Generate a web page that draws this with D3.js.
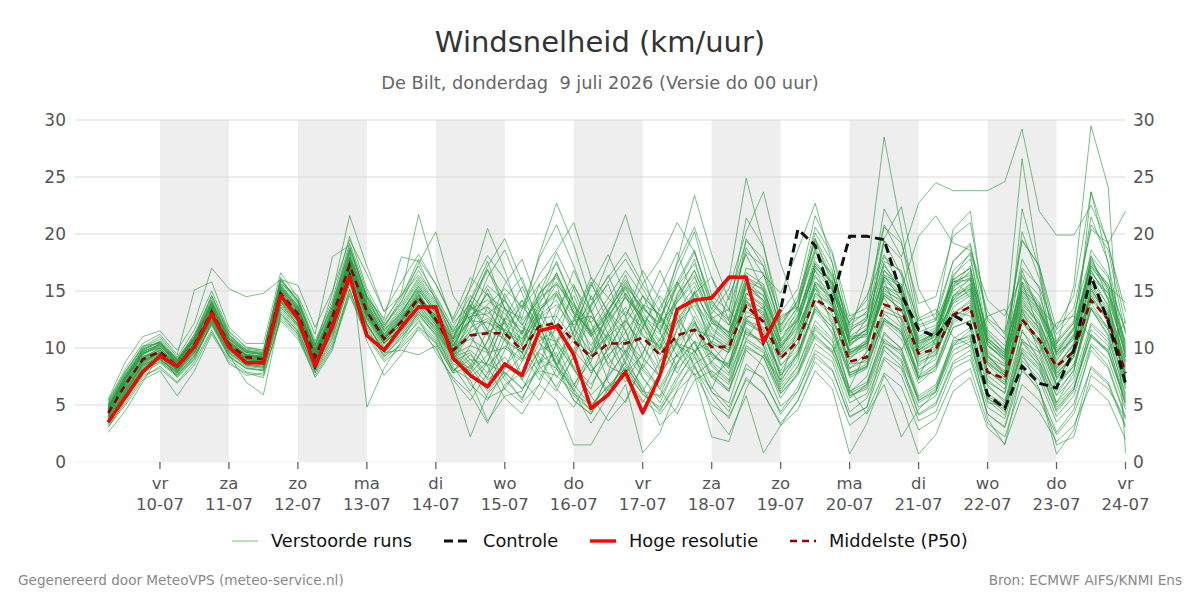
<!DOCTYPE html>
<html><head><meta charset="utf-8">
<script src="https://cdn.jsdelivr.net/npm/d3@7"></script>
<style>
html,body{margin:0;padding:0;background:#fff;}
svg{display:block;font-family:"DejaVu Sans",sans-serif;}
</style></head>
<body><svg id="c" width="1200" height="600"></svg>
<script>
// ---- data ----
const startTime = Date.UTC(2026, 6, 9, 6); // first forecast step
const stepHours = 6;
const dayNames = ["zo","ma","di","wo","do","vr","za"];
const yTicks = [0,5,10,15,20,25,30];

const hogeResolutie = [3.5,5.7,7.9,9.3,8.4,10.1,13.0,10.1,8.7,8.7,
 14.6,12.6,8.4,11.9,16.3,11.1,9.8,11.8,13.6,13.6,
 9.1,7.6,6.6,8.6,7.6,11.5,11.9,9.4,4.7,5.9,
 7.9,4.3,7.6,13.4,14.2,14.4,16.2,16.2,10.5,13.4];

const controle = [3.5,5.7,7.9,9.3,8.4,10.1,13.0,10.1,8.7,8.7,
 14.6,12.6,8.4,11.9,16.3,11.1,9.8,11.8,13.6,13.6,
 9.1,7.6,6.6,8.6,7.6,11.5,11.9,9.4,4.7,5.9,
 7.9,4.3,7.6,13.4,14.2,14.4,16.2,16.2,10.5,13.4,
 20.4,19.0,14.2,19.8,19.8,19.5,14.7,11.6,11.0,12.9,
 12.0,5.9,4.7,8.4,6.9,6.5,9.8,16.3,12.3,6.9];

const middelste = [4.3,6.8,9.0,9.7,8.4,10.3,13.2,10.3,9.2,9.0,
 14.8,13.0,9.2,12.7,17.3,13.2,10.8,12.3,14.4,12.5,
 9.8,11.1,11.3,11.3,9.8,11.9,12.2,10.6,9.2,10.4,
 10.4,10.9,9.4,11.1,11.6,10.1,10.1,13.7,12.3,9.1,
 10.6,14.3,13.3,8.8,9.2,13.8,13.3,9.5,9.9,12.9,
 13.6,7.9,7.3,12.5,10.7,8.4,9.7,14.2,12.5,7.8];

const verstoordeRuns = [
[4.5,7.2,9.5,10.2,8.6,10.8,14.1,10.8,9.5,9.2, 15.2,13.4,9.0,12.2,18.0,13.8,11.2,12.9,15.1,13.0, 10.2,12.5,14.8,12.1,9.5,13.2,15.6,11.0,7.8,9.9, 12.4,10.2,7.5,11.8,14.9,9.6,8.2,15.7,14.0,8.5, 9.8,17.2,15.1,7.6,8.3,16.4,14.2,8.1,9.0,14.5, 16.2,7.0,6.1,15.8,11.5,6.8,9.2,18.1,14.2,6.5],
[3.9,6.1,8.6,9.0,7.9,9.8,12.6,9.9,8.8,8.5, 14.1,12.2,8.6,11.9,16.5,12.6,10.1,11.5,13.2,11.8, 9.4,12.6,14.8,11.2,7.6,9.8,13.4,15.6,12.2,8.4, 7.6,11.8,14.6,12.4,8.2,6.4,9.8,14.2,12.8,7.2, 11.8,15.6,12.0,6.1,7.5,12.2,10.8,6.9,8.2,11.8, 12.4,5.2,4.9,11.6,8.8,5.9,8.1,13.5,11.0,5.8],
[5.2,7.8,10.1,11.0,9.2,11.6,15.0,11.5,10.1,9.8, 16.2,14.0,10.2,13.9,19.2,14.9,12.0,14.1,16.8,14.2, 11.4,14.1,16.9,13.5,11.2,15.6,17.4,14.0,9.6,12.1, 14.5,12.4,9.9,14.6,17.8,12.5,11.3,19.6,17.2,11.4, 13.6,20.1,17.5,11.0,11.2,19.4,17.8,11.8,12.4,17.6, 19.2,11.0,9.4,20.2,16.1,10.4,12.2,21.5,17.5,9.8],
[3.0,5.4,7.6,8.2,6.9,8.5,11.4,9.0,7.9,7.6, 12.8,11.2,7.9,10.5,15.1,11.4,9.3,10.2,11.9,10.5, 7.8,8.4,6.2,7.9,6.5,8.2,9.1,6.8,4.9,6.7, 8.2,5.9,4.8,7.5,9.4,6.1,5.2,9.8,8.4,4.9, 6.2,9.5,8.1,3.9,4.8,10.2,8.8,4.1,5.0,8.6, 9.4,4.2,3.1,8.9,7.2,3.5,5.1,9.8,8.2,3.8],
[4.8,7.5,9.2,9.9,8.2,10.5,13.9,10.0,8.9,9.4, 15.6,13.7,9.6,12.9,17.7,13.0,10.4,12.6,14.9,12.2, 9.1,8.2,10.6,14.4,16.2,12.0,8.4,10.8,14.6,11.2, 7.8,9.4,13.6,15.8,12.4,8.8,10.6,14.2,11.5,6.8, 8.9,13.8,11.2,6.5,9.8,15.9,12.4,7.3,10.9,16.1, 14.4,8.5,7.2,13.4,9.6,5.2,7.8,15.2,12.9,7.1],
[5.5,8.8,11.0,11.5,9.8,12.2,17.0,15.2,14.5,14.8, 16.0,15.5,11.8,15.0,19.5,16.5,13.2,15.8,18.2,15.6, 12.4,15.2,18.1,16.0,13.4,17.9,20.8,17.2,13.1,15.8, 17.8,15.2,12.4,16.8,20.2,14.6,13.2,21.4,18.9,13.1, 15.2,21.6,18.4,12.8,13.5,20.6,19.2,13.9,14.5,19.8, 21.0,12.4,10.8,19.5,17.2,11.6,13.5,20.4,19.2,12.1],
[2.6,4.5,7.0,9.5,7.4,9.0,12.2,9.4,7.0,5.9, 13.0,11.5,8.0,10.8,15.8,12.0,9.6,11.0,12.8,11.2, 8.0,9.4,7.8,9.2,7.2,9.8,10.4,8.1,5.9,7.4, 9.8,8.0,6.4,8.8,10.6,7.4,6.2,11.8,10.2,6.2, 8.4,12.0,10.6,5.6,6.8,11.4,9.9,5.2,6.1,10.2, 11.6,5.4,4.1,10.5,8.4,4.4,6.2,12.0,10.5,4.9],
[4.0,6.9,8.9,9.6,8.8,11.2,13.6,10.5,9.4,9.1, 14.6,13.0,9.4,13.0,17.4,13.3,11.0,12.0,14.0,12.9, 10.5,13.8,11.2,7.6,9.4,13.0,10.2,6.8,8.8,12.6, 15.4,12.0,8.2,10.6,14.8,16.2,12.4,10.8,13.0,9.8, 12.5,16.8,14.0,9.6,10.4,14.8,13.2,10.1,11.4,13.9, 14.8,9.2,8.4,13.8,12.1,9.0,10.8,15.6,13.4,8.6],
[4.6,7.0,9.4,10.4,8.9,10.9,13.5,10.9,9.7,9.6, 15.0,13.3,9.9,12.5,17.2,13.9,11.5,13.4,15.8,13.6, 11.0,13.2,15.5,14.1,12.0,14.8,16.2,13.0,11.5,13.9, 16.0,13.8,11.4,15.5,18.4,14.0,12.6,18.8,16.4,12.0, 14.6,19.4,16.2,12.5,14.2,20.8,18.0,22.7,24.5,23.8, 23.8,23.8,24.6,29.2,22.0,19.9,19.9,22.5,19.2,22.0],
[4.1,6.5,8.7,9.4,8.0,10.0,12.9,10.1,9.0,8.8, 14.4,12.7,9.1,12.4,16.9,12.9,10.6,12.2,14.1,12.3, 9.6,6.8,5.4,8.2,11.6,9.2,6.4,4.8,7.6,11.2, 9.4,6.2,5.8,9.6,12.8,10.2,8.4,12.6,13.6,10.2, 12.8,17.6,15.8,11.2,16.4,28.5,20.4,12.8,10.2,14.6, 15.2,9.8,8.4,14.2,12.0,8.2,10.0,16.4,13.6,8.9],
[3.6,6.0,8.2,9.2,8.1,9.6,12.4,9.6,8.5,8.3, 13.8,12.1,8.8,11.7,16.4,12.4,10.0,11.8,13.6,11.6, 9.2,9.8,8.4,10.2,9.0,12.2,10.8,8.4,6.8,9.2, 11.4,13.6,12.0,10.4,9.8,7.4,8.8,12.6,11.2,8.0, 10.4,14.2,12.8,8.2,9.6,12.4,11.6,7.8,9.4,13.2, 12.8,8.6,7.6,16.8,13.2,10.2,15.4,29.5,24.1,0.8],
[5.0,7.6,9.8,10.6,8.6,10.6,13.6,10.6,9.3,9.2, 15.4,13.6,9.6,13.4,18.4,14.2,11.6,13.0,15.4,13.2, 10.8,13.6,12.8,11.6,10.8,13.6,14.8,12.6,10.2,12.8, 15.2,12.6,11.2,15.8,18.6,13.4,16.0,24.9,19.0,12.0, 14.2,19.6,15.4,10.2,11.8,17.2,15.4,10.2,11.6,15.8, 16.4,10.6,9.2,14.8,13.0,8.8,11.2,16.8,14.4,9.6],
[4.4,6.6,9.1,9.8,8.4,10.2,13.1,10.4,9.1,9.0, 14.9,13.1,9.3,12.8,17.6,13.5,10.9,12.4,14.6,12.6, 9.9,11.4,12.4,10.6,9.6,12.8,14.2,11.2,9.0,11.4, 13.6,11.0,10.2,14.2,16.8,13.0,15.2,20.2,23.7,17.4, 13.2,16.4,13.6,9.4,10.8,14.6,13.4,9.8,11.2,14.2, 15.6,9.4,7.8,13.2,11.4,7.6,9.6,14.8,12.8,8.0],
[3.4,5.8,8.0,8.8,7.6,9.4,12.0,9.2,8.2,8.0, 13.6,11.8,8.4,11.2,15.9,12.0,9.8,11.2,13.0,11.2, 8.6,8.0,5.6,6.4,5.2,6.8,5.4,1.5,1.5,4.2, 6.8,0.8,2.6,6.4,9.2,6.2,4.4,8.6,7.2,4.4, 6.6,10.4,9.2,5.2,6.0,9.8,8.4,4.8,5.8,9.4, 10.2,5.6,4.4,9.6,8.0,4.6,6.4,11.2,9.6,5.2],
[4.9,7.4,9.6,10.0,8.5,10.4,13.4,10.2,9.0,8.7, 14.7,12.8,9.2,12.6,17.0,13.0,10.7,12.5,14.8,12.0, 9.4,14.2,17.6,13.4,9.6,7.2,10.4,15.4,13.2,9.8, 12.6,16.8,14.2,10.4,8.6,9.6,7.8,12.4,11.8,7.6, 9.4,14.8,13.8,8.6,8.8,13.2,12.6,8.4,9.6,12.8, 13.6,7.6,6.4,12.4,10.2,6.6,8.4,14.0,11.6,6.8],
[5.4,8.2,10.4,11.2,9.4,15.1,15.8,11.8,10.4,10.4, 16.6,14.4,10.6,14.2,19.8,15.2,12.4,14.6,17.2,14.6, 11.8,14.6,13.2,11.4,10.6,13.8,16.6,13.4,11.2,13.2, 15.8,13.2,10.6,14.8,16.4,12.4,11.0,16.2,15.4,10.6, 12.6,18.0,16.6,11.6,12.4,17.6,16.8,11.4,12.0,16.4, 17.8,10.8,9.6,16.2,14.6,9.8,11.6,17.4,15.6,10.4],
[3.2,5.2,7.4,8.4,7.0,8.8,11.6,8.6,7.8,7.4, 12.6,11.0,7.8,10.2,14.8,11.2,9.0,10.4,12.4,10.8, 8.2,7.2,3.6,5.8,6.2,9.6,8.2,5.4,4.2,6.4, 8.8,6.6,3.2,4.8,8.4,5.6,3.8,7.4,6.0,3.4, 5.4,8.8,7.2,3.2,4.4,7.8,6.6,2.8,3.8,7.2, 8.2,3.4,2.2,6.8,5.4,2.4,4.2,8.2,6.8,3.0],
[4.2,7.4,9.9,10.6,9.0,10.6,14.0,11.0,9.8,9.4, 15.4,13.6,9.8,12.7,17.8,13.6,11.0,12.8,14.4,12.4, 9.6,7.8,9.4,13.6,11.2,8.6,12.8,16.8,13.4,9.2, 7.0,9.6,12.4,15.8,13.2,10.4,14.6,18.2,15.0,10.4, 11.8,15.2,12.4,9.0,10.6,14.4,12.0,8.6,9.8,13.0, 14.2,8.8,7.4,12.8,10.6,7.4,9.4,14.6,12.2,7.6],
[4.7,7.1,9.3,9.5,8.3,10.1,12.8,10.0,8.8,8.6, 14.2,12.4,8.8,12.0,18.6,4.8,8.2,10.6,13.2,11.4, 9.2,12.4,16.2,18.6,14.8,11.2,8.4,6.6,9.8,13.2, 11.6,7.4,5.2,8.6,12.2,9.2,8.6,13.2,12.4,8.4, 10.4,14.6,13.0,8.2,9.0,13.6,12.8,8.8,9.4,13.0, 14.0,8.0,7.0,12.6,10.8,7.8,9.2,14.2,12.6,7.4],
[5.1,7.9,10.2,10.4,9.1,11.0,14.4,11.2,9.6,9.4, 15.8,13.9,10.0,13.6,18.8,14.4,11.8,14.4,17.8,15.6, 12.6,16.2,14.6,13.4,12.6,18.2,22.7,19.0,14.2,16.2, 18.4,15.6,13.2,17.4,20.6,16.2,13.4,18.4,17.2,12.6, 13.8,18.6,15.2,11.4,12.8,17.4,14.8,10.6,11.4,15.2, 16.8,11.4,9.8,15.4,13.6,9.6,11.8,17.6,15.2,10.2],
[4.3,6.7,8.8,9.6,8.3,10.2,13.2,10.4,9.2,9.0, 15.1,13.2,9.4,13.2,18.0,14.6,12.2,14.8,21.7,16.4, 12.2,13.8,11.6,10.8,9.6,12.6,13.8,11.8,9.6,11.2, 13.2,11.8,9.8,12.6,14.4,11.2,10.2,14.8,13.6,9.4, 11.2,15.8,14.6,9.8,10.4,15.2,14.0,9.6,10.6,14.4, 15.4,9.6,8.6,14.4,12.4,8.4,10.4,15.8,13.8,8.8],
[4.6,7.3,9.7,10.3,8.7,10.7,13.8,10.7,9.4,9.3, 15.3,13.5,9.8,13.2,17.9,14.1,11.8,14.0,17.4,20.2, 14.6,12.4,9.8,7.2,5.6,8.4,12.0,14.6,11.2,7.0, 5.2,8.6,12.8,10.4,7.6,8.8,7.6,11.4,10.6,7.0, 9.6,13.4,11.8,7.4,8.2,12.6,11.4,7.2,8.4,12.2, 13.2,7.2,6.0,11.4,9.8,6.2,8.0,13.4,11.2,6.4],
[4.0,6.3,8.5,9.3,8.1,9.9,12.7,9.8,8.7,8.9, 14.3,12.6,8.9,12.2,16.8,12.8,10.4,12.0,14.2,12.6, 10.8,15.4,20.5,16.8,12.4,14.2,17.6,14.0,11.2,12.8, 14.8,12.2,10.0,13.2,15.4,11.6,10.4,15.6,14.2,10.0, 12.2,17.0,15.8,10.8,11.6,16.4,15.6,10.6,11.2,15.6, 16.6,10.2,9.0,15.0,13.2,9.4,11.0,16.2,14.8,9.2],
[3.7,6.2,8.4,9.1,7.8,9.5,12.5,9.7,8.6,8.4, 14.0,12.0,8.6,11.6,16.2,12.2,9.6,9.8,9.4,10.2, 6.8,2.2,6.0,7.6,5.4,8.8,9.6,6.2,3.4,5.8, 8.4,6.2,4.4,7.2,9.8,6.6,4.8,8.2,7.4,4.2, 6.2,9.8,8.8,4.4,5.6,9.2,8.2,4.2,5.2,8.8, 9.8,4.8,3.8,9.2,7.6,4.0,5.8,10.4,9.0,4.6],
[3.5,5.9,8.1,9.0,7.7,9.2,12.3,9.5,8.4,8.2, 13.4,11.6,8.2,11.4,16.0,11.8,9.2,11.0,12.6,9.6, 7.4,6.0,3.4,6.8,7.8,10.4,9.2,5.8,4.6,7.6, 9.6,7.4,5.6,8.6,10.6,7.8,6.2,10.2,9.2,5.6, 7.8,11.6,10.2,6.0,6.8,10.8,9.6,5.6,6.6,10.4, 11.2,6.0,5.0,10.6,8.8,5.2,7.0,11.6,10.2,5.6],
[4.5,6.9,9.1,10.0,8.6,10.4,13.3,10.5,9.3,9.1, 14.8,12.9,9.3,12.9,17.5,13.4,10.9,12.7,14.5,12.8, 10.4,8.6,6.8,9.8,13.4,15.6,11.8,8.2,6.4,10.2, 14.8,12.6,9.4,12.2,15.0,12.2,11.4,15.2,14.2,11.2, 12.4,16.2,14.8,12.2,14.6,18.2,15.2,19.8,21.6,19.2, 18.6,14.2,12.8,16.4,13.2,10.4,12.2,17.2,15.6,11.6],
[3.8,6.4,8.6,9.4,8.2,10.0,12.8,10.2,9.0,8.8, 14.4,12.6,9.0,12.4,17.0,13.0,10.6,12.0,13.8,12.0, 9.8,13.6,16.8,14.4,10.2,7.8,6.2,9.4,13.6,16.4, 12.8,9.2,7.4,10.6,12.2,10.4,9.6,12.8,12.4,9.4, 11.0,14.8,13.6,9.6,10.2,15.4,14.8,10.0,11.2,16.2, 18.4,13.2,11.2,26.6,17.0,9.4,10.8,17.8,15.2,9.2],
[4.4,7.0,9.0,9.8,8.5,10.3,13.0,10.3,9.1,8.9, 14.6,12.9,9.2,12.6,17.2,13.1,10.8,12.3,14.4,12.4, 9.6,7.4,8.8,12.6,15.4,12.0,8.6,5.4,4.2,7.8, 12.2,14.6,11.4,8.2,9.8,10.6,9.8,14.0,13.0,9.0, 10.8,15.6,14.4,10.4,12.6,19.6,22.4,15.2,12.4,15.8, 16.0,10.4,8.8,14.0,12.2,8.6,10.2,15.4,13.2,8.4],
[3.3,5.6,7.8,8.7,7.5,9.1,12.1,9.3,8.3,8.0, 13.2,11.4,8.1,11.0,15.6,11.6,9.4,10.8,12.2,10.6, 8.0,9.0,8.6,7.8,6.4,8.0,7.6,6.0,5.0,6.6, 7.6,5.4,4.2,6.2,7.8,5.0,4.0,7.2,6.0,3.2, 4.6,8.0,6.4,0.7,3.4,7.6,5.2,0.7,2.4,6.2, 7.4,3.0,1.6,5.8,4.4,1.8,3.2,6.8,5.4,2.0],
[3.6,6.1,8.3,9.1,7.9,9.7,12.6,9.8,8.6,8.4, 13.8,12.0,8.6,11.6,16.2,12.1,9.9,11.4,13.2,11.4, 8.8,9.6,7.2,8.4,7.4,9.0,8.2,6.4,4.4,6.0, 7.8,6.0,4.6,6.8,8.6,4.4,2.4,5.8,0.8,3.2, 5.4,9.2,8.0,4.0,4.8,9.0,7.6,3.6,4.4,8.2, 9.0,4.2,3.0,8.0,6.4,0.7,2.8,8.4,7.0,3.2],
[4.9,7.3,9.4,10.1,8.8,10.8,13.7,10.8,9.6,9.5, 15.2,13.5,9.7,13.1,17.9,13.7,11.2,13.2,15.2,13.0, 10.2,12.8,9.6,6.4,8.8,12.4,16.6,13.0,8.6,5.8, 9.2,13.4,16.8,13.2,9.6,12.2,10.8,15.8,15.2,10.6, 13.4,19.6,16.8,10.2,11.4,19.4,16.4,9.8,10.8,16.8, 18.2,10.6,9.4,17.8,15.2,8.2,10.4,18.6,16.4,9.4],
[4.2,6.8,8.8,9.5,8.3,10.1,13.0,10.3,9.1,8.8, 14.5,12.8,9.1,12.6,17.1,13.0,10.7,12.1,14.0,12.2, 10.0,8.4,11.6,15.6,17.8,13.6,10.4,12.6,16.2,13.0, 9.6,11.8,15.2,18.4,14.2,11.8,10.6,14.4,13.4,9.6, 12.0,17.4,15.6,9.2,10.0,16.8,15.4,9.8,10.8,15.4, 17.2,9.4,7.6,22.2,16.8,7.2,9.6,23.7,17.4,7.0],
[4.7,7.6,9.8,10.5,8.9,10.9,14.2,11.1,9.9,9.7, 15.9,14.1,10.3,13.6,18.6,14.4,11.6,13.6,16.0,13.8, 11.2,13.0,13.6,12.4,11.2,14.0,15.8,13.2,11.4,13.4, 15.4,13.6,11.8,14.4,16.8,13.4,12.0,17.0,16.6,11.8, 14.2,20.6,18.2,11.8,12.6,22.2,19.4,12.0,12.6,20.4, 22.0,11.6,10.2,19.4,17.2,10.6,12.4,20.8,18.6,11.2],
[3.9,6.3,8.5,9.3,8.0,9.8,12.6,9.9,8.8,8.6, 14.0,12.3,8.8,11.8,16.6,12.6,10.3,11.9,13.8,12.0, 9.4,10.2,9.6,10.0,8.8,10.6,11.6,9.8,8.0,9.4, 10.8,9.0,7.6,10.4,12.0,8.6,7.2,11.6,10.2,6.6, 8.4,12.4,10.8,6.4,4.2,6.8,2.2,4.6,6.2,10.8, 11.8,6.6,5.4,10.8,9.2,5.8,7.4,12.2,10.8,6.0],
[4.3,6.6,8.9,9.7,8.4,10.4,13.3,10.4,9.2,9.1, 14.8,13.0,9.3,12.7,17.3,13.3,10.9,12.5,14.6,12.7, 10.0,11.8,12.6,11.4,10.2,13.4,14.6,12.0,13.8,17.6, 21.7,16.4,12.2,14.0,16.2,12.8,11.2,15.4,14.6,10.2, 11.6,15.8,14.2,9.6,10.4,14.8,13.8,9.4,10.2,14.0, 15.2,9.2,8.0,13.6,11.6,8.0,9.8,15.0,13.0,8.2],
[4.8,7.2,9.5,10.2,8.7,10.6,13.7,10.6,9.4,9.3, 15.1,13.3,9.6,13.0,17.6,13.6,11.1,12.8,15.0,13.1, 10.6,12.4,12.2,11.6,10.4,13.2,15.0,13.0,11.0,13.2, 15.6,13.4,12.2,17.6,23.4,18.2,14.2,19.4,17.8,12.4, 14.0,18.8,16.0,11.0,12.0,16.8,15.0,10.8,11.6,16.0, 17.0,10.8,9.6,15.6,13.8,9.6,11.2,16.6,14.8,10.0],
[4.1,6.4,8.7,9.5,8.1,10.0,12.9,10.0,8.9,8.7, 14.2,12.5,9.0,12.3,16.8,12.8,10.5,11.6,13.4,11.6, 9.0,11.2,8.4,5.6,4.2,6.8,10.4,8.2,5.8,3.6, 5.4,8.6,6.4,4.2,7.2,8.0,6.8,10.6,9.6,6.0, 7.8,11.2,9.6,5.8,6.6,10.6,9.4,5.4,6.4,10.2, 10.8,5.8,4.8,10.0,8.6,5.0,6.6,11.2,9.8,5.4],
[5.3,8.0,10.0,10.8,9.0,11.2,14.6,11.4,10.0,9.8, 16.0,14.2,10.4,13.8,18.8,14.6,12.0,13.8,16.2,14.0, 11.6,13.4,14.2,13.0,11.4,14.8,16.4,13.6,12.2,14.4, 16.8,14.6,12.8,15.4,17.4,13.8,12.4,16.6,15.6,11.6, 13.6,18.4,16.4,12.0,13.2,18.0,16.6,12.4,13.0,17.6, 19.0,12.6,11.4,17.0,15.4,11.2,13.0,18.0,16.2,11.4],
[3.7,6.0,8.2,9.0,7.8,9.6,12.4,9.6,8.5,8.3, 13.6,11.9,8.5,11.4,16.1,12.1,9.7,11.2,13.0,11.0, 8.4,6.2,8.8,12.4,14.2,10.6,7.4,9.8,13.8,15.6, 11.4,8.2,6.6,9.4,11.4,8.4,7.0,10.8,9.8,6.4, 8.0,11.8,10.2,6.2,7.0,11.2,10.0,5.8,6.8,10.6, 11.0,3.8,1.5,8.2,6.2,2.6,4.6,10.2,8.4,4.0],
[4.5,7.1,9.2,10.0,8.6,10.5,13.5,10.5,9.3,9.2, 15.0,13.2,9.5,12.9,17.4,13.4,11.0,12.6,14.7,12.8, 10.2,13.4,17.2,19.6,15.8,12.4,9.2,11.6,15.4,18.2, 14.6,11.2,9.4,12.2,13.8,11.0,10.0,13.6,12.6,9.6, 11.4,15.4,14.0,9.8,10.6,15.0,14.2,9.6,10.4,14.6, 15.6,10.2,9.2,15.2,13.6,11.8,14.6,23.7,19.0,13.2],
[4.0,6.6,8.8,9.6,8.2,10.1,13.1,10.2,9.0,8.8, 14.6,12.8,9.1,12.5,17.1,13.1,10.8,12.4,14.3,12.5, 9.8,8.0,10.6,14.8,12.2,8.4,6.6,9.2,12.8,10.6, 7.4,5.2,7.8,11.6,14.2,10.4,9.6,14.6,16.4,14.8, 18.6,22.7,17.4,10.8,11.0,15.4,14.4,9.2,10.0,14.2, 15.0,9.0,7.8,13.4,11.8,7.8,9.4,15.2,12.6,7.6],
[4.4,6.9,9.0,9.8,8.4,10.3,13.2,10.2,9.1,9.0, 14.7,12.9,9.3,12.8,17.2,13.2,10.8,12.3,14.2,12.3, 9.7,11.2,11.4,12.2,10.8,12.6,12.8,10.8,9.4,11.0, 12.4,10.2,8.0,9.4,7.6,2.2,1.8,6.4,9.4,7.2, 9.2,13.2,11.4,7.6,8.4,12.4,11.2,7.4,8.4,12.4, 13.4,8.0,6.8,12.2,10.4,6.8,8.6,13.6,11.8,7.4],
[5.0,7.7,9.9,10.5,8.9,11.0,14.6,11.2,9.8,9.6, 16.0,14.2,10.2,14.8,21.6,17.2,13.2,14.6,16.4,14.4, 11.4,12.8,13.0,14.2,12.0,14.4,15.6,13.8,11.0,12.4, 14.4,12.8,11.6,14.0,15.8,12.6,11.4,15.8,14.6,10.8, 12.8,17.2,15.2,10.4,11.2,16.0,14.6,10.4,11.4,15.4, 16.2,10.6,9.2,15.0,13.4,9.2,11.0,16.8,14.2,9.6],
[4.6,7.4,9.6,10.4,8.8,10.8,14.0,10.8,9.6,9.4, 15.6,14.6,11.2,18.0,19.0,14.4,12.6,18.0,17.6,14.2, 10.8,14.2,11.6,8.4,10.2,14.6,18.4,15.2,11.4,8.6, 10.4,14.6,12.8,9.2,11.6,11.0,9.8,13.8,13.2,9.2, 10.8,15.2,13.8,9.4,10.2,14.6,13.4,9.0,9.8,13.6, 14.6,8.8,7.6,13.0,11.2,7.4,9.2,14.6,12.4,7.8],
[3.4,5.7,7.9,8.9,7.6,9.3,12.2,9.3,8.2,8.1, 13.0,11.2,7.4,9.8,15.2,10.6,7.6,9.4,11.8,10.4, 7.8,10.2,13.6,10.8,7.2,5.4,8.2,12.4,15.8,12.2, 8.6,6.2,8.8,12.6,10.4,7.6,6.4,10.0,9.2,6.0, 7.6,11.0,9.8,5.8,6.4,10.2,9.0,5.4,6.2,9.8, 10.6,5.6,4.6,9.8,8.2,4.8,6.4,11.0,9.6,5.2],
[4.3,6.8,8.9,9.6,8.5,10.4,13.4,10.4,9.2,8.9, 14.9,13.0,9.2,12.8,17.5,13.2,10.8,12.4,14.4,12.6, 9.9,10.8,9.8,12.6,11.8,11.0,10.6,12.4,12.8,10.8, 9.6,13.8,13.0,10.2,9.4,12.6,13.4,11.2,10.6,12.8, 13.6,10.8,9.6,12.4,13.0,10.4,9.8,12.6,13.4,11.0, 10.2,12.8,13.4,10.6,9.6,12.2,12.8,11.0,9.8,12.4],
[3.1,5.0,7.2,8.0,5.8,8.0,11.2,8.8,7.6,7.8, 12.4,10.8,7.6,10.0,14.6,11.0,8.8,10.0,11.6,10.0, 7.2,5.4,7.8,11.6,13.8,11.4,8.6,6.2,9.4,13.2, 16.4,12.6,8.8,10.8,12.4,9.4,8.4,12.2,11.2,7.6, 9.4,13.6,12.2,7.8,8.6,13.0,11.8,7.6,8.6,12.6, 13.8,8.0,6.8,12.4,10.6,6.8,8.4,13.4,11.6,6.8],
[4.7,7.3,9.5,10.2,8.7,10.7,13.6,10.6,9.4,9.2, 15.3,13.4,9.6,13.2,17.8,13.8,11.2,13.0,15.6,13.4, 10.8,12.4,13.8,15.2,13.6,16.4,18.6,21.0,16.2,14.4, 12.8,15.6,17.8,21.0,18.4,14.2,12.0,16.2,15.0,11.4, 13.0,17.4,15.6,10.6,11.6,16.2,15.4,11.0,11.8,16.0, 17.0,11.2,9.8,15.8,14.0,10.0,11.8,17.2,15.0,10.6],
[3.8,6.2,8.4,9.2,8.0,9.9,12.7,9.9,8.8,8.6, 14.1,12.4,8.9,12.1,16.7,12.7,10.4,11.8,13.6,11.8, 9.2,11.6,15.2,12.4,9.0,11.4,14.8,11.8,8.4,6.2, 8.8,12.6,10.4,7.8,10.6,9.6,8.2,12.4,11.2,7.8, 9.6,13.4,11.8,7.8,8.4,12.6,11.4,7.4,8.0,11.8, 12.4,6.8,5.2,9.6,6.4,1.5,2.2,7.6,6.4,3.8],
[4.9,7.5,9.7,10.3,8.8,10.8,13.9,10.9,9.7,9.5, 15.5,13.7,9.9,13.4,18.2,14.0,11.4,13.2,15.4,13.2, 10.6,9.0,7.4,10.8,14.2,12.0,8.6,11.4,15.6,13.2, 10.6,8.2,10.8,13.0,14.8,12.4,11.0,14.8,13.8,10.0, 12.4,16.8,15.0,10.6,11.6,16.2,14.8,10.4,11.0,15.0, 16.0,10.2,9.0,14.6,12.8,9.6,11.6,17.0,15.4,14.0]
];

// ---- layout ----
const m = {left: 75, right: 1125.5, top: 120, bottom: 462};
const svg = d3.select("#c");
const DAY = 864e5;
const tOf = i => new Date(startTime + i * stepHours * 3600e3);
const x = d3.scaleUtc()
  .domain([new Date(Date.UTC(2026,6,10) - 85/69*DAY), new Date(Date.UTC(2026,6,24))])
  .range([m.left, m.right]);
const y = d3.scaleLinear().domain([0,30]).range([m.bottom, m.top]);

// alternating day shading
const days = d3.utcDays(new Date(Date.UTC(2026,6,10)), new Date(Date.UTC(2026,6,24,1)));
const shaded = days.filter((d,i) => i % 2 === 0 && i < days.length - 1);
svg.append("g").selectAll("rect").data(shaded).join("rect")
  .attr("x", d => x(d)).attr("width", d => x(d3.utcDay.offset(d,1)) - x(d))
  .attr("y", m.top).attr("height", m.bottom - m.top).attr("fill", "#eeeeee");

// gridlines
svg.append("g").selectAll("line").data(yTicks).join("line")
  .attr("x1", m.left).attr("x2", m.right)
  .attr("y1", d => y(d)).attr("y2", d => y(d))
  .attr("stroke", d => d === 0 ? "#eeeeee" : "#d9d9d9").attr("stroke-width", 1);

// y labels both sides
const yl = svg.append("g").style("font-size", "17px").attr("fill", "#555");
yl.selectAll("text.l").data(yTicks).join("text").attr("class","l")
  .attr("x", 66).attr("y", d => y(d)).attr("dy", "0.35em").attr("text-anchor","end").text(d => d);
yl.selectAll("text.r").data(yTicks).join("text").attr("class","r")
  .attr("x", 1133).attr("y", d => y(d)).attr("dy", "0.35em").attr("text-anchor","start").text(d => d);

// x ticks
const xg = svg.append("g");
xg.selectAll("line").data(days).join("line")
  .attr("x1", d => x(d)).attr("x2", d => x(d))
  .attr("y1", m.bottom).attr("y2", m.bottom + 7).attr("stroke", "#666").attr("stroke-width", 1.3);
const fmtDate = d3.utcFormat("%d-%m");
const xt = xg.selectAll("text").data(days).join("text")
  .attr("text-anchor","middle").style("font-size","16.5px").attr("fill","#555");
xt.append("tspan").attr("x", d => x(d)).attr("y", 489).text(d => dayNames[d.getUTCDay()]);
xt.append("tspan").attr("x", d => x(d)).attr("y", 510).text(d => fmtDate(d));

// lines
const line = d3.line().x((d,i) => x(tOf(i))).y(d => y(d));
svg.append("g").selectAll("path").data(verstoordeRuns).join("path")
  .attr("d", line).attr("fill","none").attr("stroke","#249a3c")
  .attr("stroke-opacity", 0.62).attr("stroke-width", 1);
svg.append("path").datum(middelste).attr("d", line).attr("fill","none")
  .attr("stroke","#8b0000").attr("stroke-width", 2.6).attr("stroke-dasharray","7,5");
svg.append("path").datum(controle).attr("d", line).attr("fill","none")
  .attr("stroke","#111").attr("stroke-width", 3).attr("stroke-dasharray","9,5");
svg.append("path").datum(hogeResolutie).attr("d", line).attr("fill","none")
  .attr("stroke","#ff0000").attr("stroke-width", 3.4).attr("stroke-linejoin","round");

// titles
svg.append("text").attr("x", 600).attr("y", 52).attr("text-anchor","middle")
  .style("font-size","29px").attr("fill","#333").text("Windsnelheid (km/uur)");
svg.append("text").attr("x", 600).attr("y", 89).attr("text-anchor","middle")
  .style("font-size","17.8px").attr("fill","#666").text("De Bilt, donderdag\u00a0 9 juli 2026 (Versie do 00 uur)");

// legend
const legend = [
  {label:"Verstoorde runs", x:232, color:"#6cc46c", w:1, dash:null},
  {label:"Controle", x:444, color:"#111", w:3, dash:"9,5"},
  {label:"Hoge resolutie", x:590, color:"#ff0000", w:3.4, dash:null},
  {label:"Middelste (P50)", x:790, color:"#8b0000", w:2.6, dash:"7,5"}
];
const lg = svg.append("g").selectAll("g").data(legend).join("g");
lg.append("line").attr("x1", d => d.x).attr("x2", d => d.x + 26)
  .attr("y1", 541).attr("y2", 541).attr("stroke", d => d.color)
  .attr("stroke-width", d => d.w).attr("stroke-dasharray", d => d.dash);
lg.append("text").attr("x", d => d.x + 39).attr("y", 541).attr("dy","0.35em")
  .style("font-size","17.8px").attr("fill","#111").text(d => d.label);

// footer
svg.append("text").attr("x", 18).attr("y", 585).style("font-size","13.6px").attr("fill","#888")
  .text("Gegenereerd door MeteoVPS (meteo-service.nl)");
svg.append("text").attr("x", 1182).attr("y", 585).attr("text-anchor","end").style("font-size","13.6px").attr("fill","#888")
  .text("Bron: ECMWF AIFS/KNMI Ens");
</script></body></html>
